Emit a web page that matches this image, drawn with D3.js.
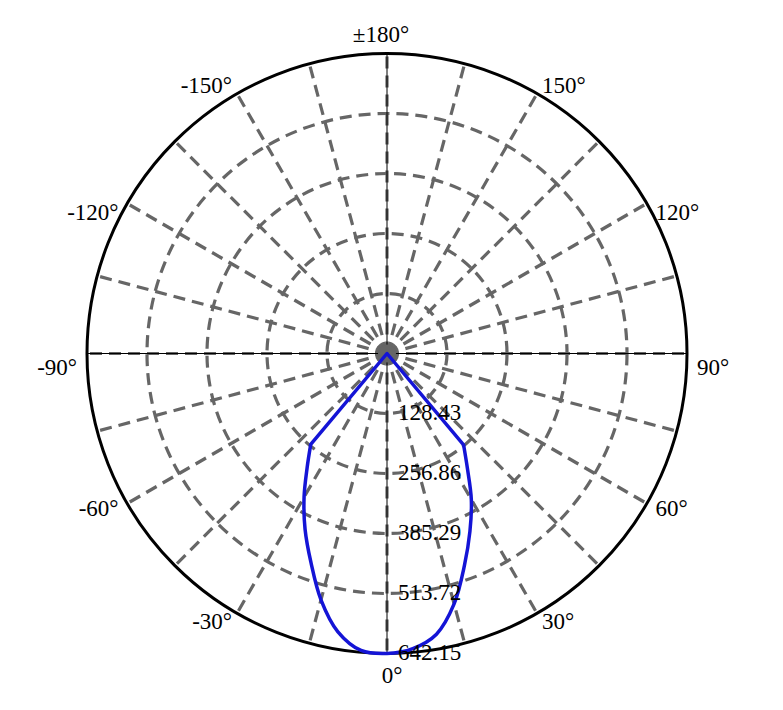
<!DOCTYPE html>
<html>
<head>
<meta charset="utf-8">
<script src="https://cdn.jsdelivr.net/npm/d3@7"></script>
<style>
  html, body { margin: 0; padding: 0; background: #fff; }
  svg { display: block; }
  text { font-family: "Liberation Serif", "Times New Roman", serif; fill: #000; }
</style>
</head>
<body>
<svg id="chart" width="783" height="710"></svg>
<script>
// ---- data ----
const angles = [
  -180, -175, -170, -165, -160, -155, -150, -145, -140, -135, -130, -125, -120, -115,
  -110, -105, -100, -95, -90, -85, -80, -75, -70, -65, -60, -55, -50, -45,
  -40, -35, -30, -25, -20, -15, -10, -5, 0, 5, 10, 15, 20, 25, 30, 35, 40,
  45, 50, 55, 60, 65, 70, 75, 80, 85, 90, 95, 100, 105, 110, 115, 120, 125,
  130, 135, 140, 145, 150, 155, 160, 165, 170, 175, 180
];
const intensity = [
  0, 0, 0, 0, 0, 0, 0, 0, 0, 0, 0, 0, 0, 0,
  0, 0, 0, 0, 0, 0, 0, 0, 0, 0, 0, 0, 0, 0,
  254, 298, 355, 415, 476, 546, 605, 638, 642.15, 634, 610, 555, 484, 420, 361, 300, 255,
  0, 0, 0, 0, 0, 0, 0, 0, 0, 0, 0, 0, 0, 0, 0, 0, 0,
  0, 0, 0, 0, 0, 0, 0, 0, 0, 0, 0
];
const ringValues = [128.43, 256.86, 385.29, 513.72, 642.15];
const ringLabels = ["128.43", "256.86", "385.29", "513.72", "642.15"];
const angleTicks = [0, 30, 60, 90, 120, 150, 180, -150, -120, -90, -60, -30];
const angleLabels = ["0°", "30°", "60°", "90°", "120°", "150°", "±180°", "-150°", "-120°", "-90°", "-60°", "-30°"];
const spokeAngles = d3.range(0, 360, 15);

// ---- layout ----
const cx = 387, cy = 353.5, R = 300;
const gray = "#666666";
const svg = d3.select("#chart");
const g = svg.append("g").attr("transform", `translate(${cx},${cy})`);

const r = d3.scaleLinear().domain([0, 642.15]).range([0, R]);
const toRad = d => d * Math.PI / 180;
// screen position: 0° at bottom, +90° at right
const px = (deg, rad) => rad * Math.sin(toRad(deg));
const py = (deg, rad) => rad * Math.cos(toRad(deg));

// spokes
g.selectAll("line.spoke").data(spokeAngles).join("line")
  .attr("class", "spoke")
  .attr("x1", 0).attr("y1", 0)
  .attr("x2", d => px(d, R)).attr("y2", d => py(d, R))
  .attr("stroke", gray).attr("stroke-width", 3.2)
  .attr("stroke-dasharray", "12,7");

// rings
g.selectAll("circle.ring").data(ringValues.slice(0, -1)).join("circle")
  .attr("class", "ring")
  .attr("r", d => r(d))
  .attr("fill", "none")
  .attr("stroke", gray).attr("stroke-width", 3.2)
  .attr("stroke-dasharray", "12,7");

// thin black axes
[0, 90].forEach(a => {
  g.append("line")
    .attr("x1", px(a, R)).attr("y1", py(a, R))
    .attr("x2", px(a + 180, R)).attr("y2", py(a + 180, R))
    .attr("stroke", "#000").attr("stroke-width", 1);
});

// outer circle
g.append("circle").attr("r", r(642.15))
  .attr("fill", "none").attr("stroke", "#000").attr("stroke-width", 3);

// center dot
g.append("circle").attr("r", 9).attr("fill", gray);

// intensity curve: smooth lobe over non-zero values, straight edges to the centre
const lobe = angles.map((a, i) => [a, intensity[i]]).filter(d => d[1] > 0)
  .map(d => [px(d[0], r(d[1])), py(d[0], r(d[1]))]);
const lobePath = d3.line().curve(d3.curveCatmullRom.alpha(0.5))(lobe);
g.append("path")
  .attr("d", "M0,0L" + lobePath.slice(1) + "Z")
  .attr("fill", "none")
  .attr("stroke", "#1414d6")
  .attr("stroke-width", 3.5)
  .attr("stroke-linejoin", "round");

// ring labels
g.selectAll("text.rl").data(ringValues).join("text")
  .attr("class", "rl")
  .attr("x", 11)
  .attr("y", d => r(d) - 1)
  .attr("dominant-baseline", "central")
  .attr("font-size", 23)
  .text((d, i) => ringLabels[i]);

// angle labels
const gap = 10;
g.selectAll("text.al").data(angleTicks).join("text")
  .attr("class", "al")
  .attr("font-size", 23)
  .attr("text-anchor", d => {
    const s = Math.sin(toRad(d));
    return Math.abs(s) < 0.05 ? "middle" : (s > 0 ? "start" : "end");
  })
  .attr("x", d => {
    const s = Math.sin(toRad(d));
    return Math.abs(s) < 0.05 ? px(d, R) + (d === 0 ? 5 : -6) : px(d, R + gap);
  })
  .attr("y", d => {
    const c = Math.cos(toRad(d));
    if (c > 0.95) return py(d, R) + 29.5;        // bottom label
    if (c < -0.95) return py(d, R) - 11.5;       // top label
    const side = (Math.abs(d) === 90 || Math.abs(d) === 120) ? 14 : 0;
    return py(d, R + gap) + 7.5 + side;
  })
  .text((d, i) => angleLabels[i]);
</script>
</body>
</html>
